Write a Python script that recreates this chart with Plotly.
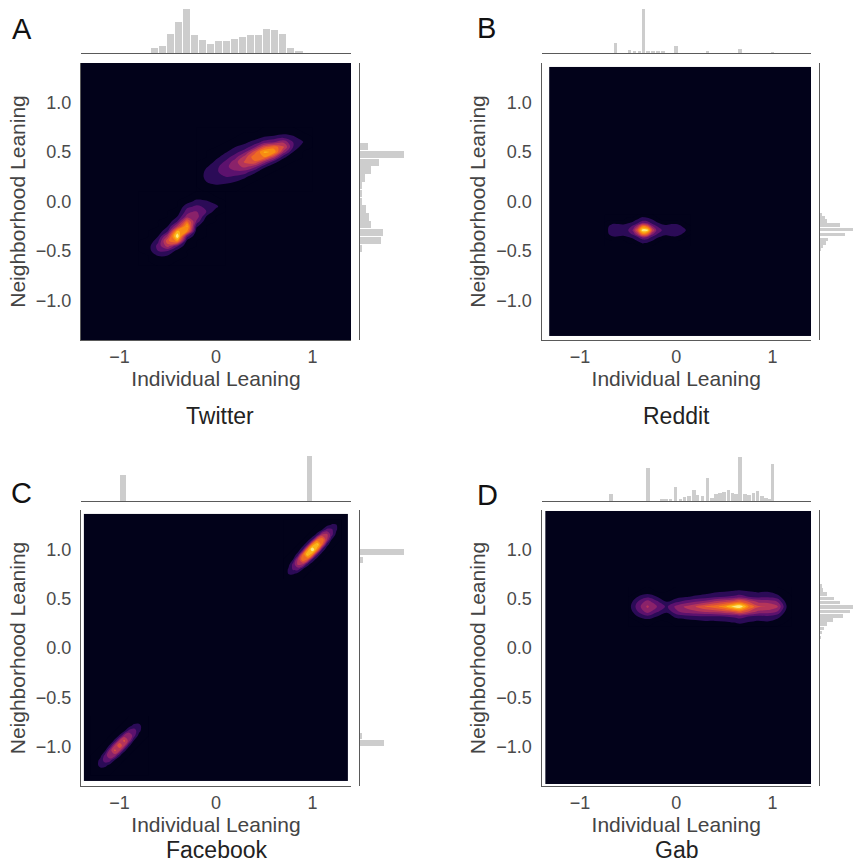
"""Individual vs neighborhood leaning on four platforms."""
import plotly.graph_objects as go

TICKS_X = [-1, 0, 1]
TICKS_Y = [-1.0, -0.5, 0.0, 0.5, 1.0]
TICK_TEXT_X = ["\u22121", "0", "1"]
TICK_TEXT_Y = ["\u22121.0", "\u22120.5", "0.0", "0.5", "1.0"]

# Twitter
A_TOP_X = [-0.636, -0.553, -0.470, -0.387, -0.304, -0.221, -0.138, -0.055, 0.028, 0.111,
           0.194, 0.277, 0.360, 0.443, 0.526, 0.609, 0.692, 0.775, 0.858]
A_TOP_Y = [15, 20, 58, 93, 132, 55, 38, 28, 36, 36, 42, 48, 55, 55, 73, 68, 57, 15, 5]
A_RIGHT_Y = [0.555, 0.476, 0.397, 0.318, 0.239, 0.160, 0.081, 0.002, -0.077, -0.156,
             -0.235, -0.314, -0.393, -0.472]
A_RIGHT_X = [25, 132, 58, 34, 15, 6, 6, 5, 17, 27, 33, 70, 62, 6]
A_HIGH_X = [-0.2, -0.1, 0.0, 0.1, 0.2, 0.3, 0.4, 0.5, 0.6, 0.7, 0.8, 0.9, 1.0]
A_HIGH_Y = [0.10, 0.15, 0.20, 0.25, 0.30, 0.35, 0.40, 0.45, 0.50, 0.55, 0.60, 0.65, 0.70, 0.75]
A_HIGH_Z = [
    [0, 0, 0, 0, 0, 0, 0, 0, 0, 0, 0, 0, 0],
    [0, .02, .08, .06, .03, 0, 0, 0, 0, 0, 0, 0, 0],
    [0, .1, .13, .13, .1, .05, 0, 0, 0, 0, 0, 0, 0],
    [0, .14, .17, .2, .18, .12, .04, 0, 0, 0, 0, 0, 0],
    [0, .13, .18, .26, .28, .26, .13, .03, 0, 0, 0, 0, 0],
    [0, .09, .17, .27, .36, .42, .32, .12, .03, 0, 0, 0, 0],
    [0, .02, .13, .22, .36, .52, .58, .36, .14, .03, 0, 0, 0],
    [0, 0, .07, .15, .26, .45, .68, .7, .45, .13, .02, 0, 0],
    [0, 0, .01, .09, .16, .28, .55, .82, .78, .36, .1, 0, 0],
    [0, 0, 0, .02, .1, .14, .28, .55, .66, .52, .2, .04, 0],
    [0, 0, 0, 0, .02, .08, .14, .24, .3, .38, .2, .11, 0],
    [0, 0, 0, 0, 0, .01, .05, .11, .13, .17, .13, .03, 0],
    [0, 0, 0, 0, 0, 0, 0, .02, .03, .05, .03, 0, 0],
    [0, 0, 0, 0, 0, 0, 0, 0, 0, 0, 0, 0, 0],
]
A_LOW_X = [-0.8, -0.7, -0.6, -0.5, -0.4, -0.3, -0.2, -0.1, 0.0, 0.1]
A_LOW_Y = [-0.65, -0.60, -0.55, -0.50, -0.45, -0.40, -0.35, -0.30, -0.25, -0.20, -0.15, -0.10,
           -0.05, 0.0, 0.05, 0.10]
A_LOW_Z = [
    [0, 0, 0, 0, 0, 0, 0, 0, 0, 0],
    [0, 0, .02, .01, 0, 0, 0, 0, 0, 0],
    [0, 0, .1, .09, .01, 0, 0, 0, 0, 0],
    [0, .06, .2, .2, .06, 0, 0, 0, 0, 0],
    [0, .06, .24, .45, .22, .02, 0, 0, 0, 0],
    [0, .01, .18, .58, .72, .06, 0, 0, 0, 0],
    [0, 0, .1, .42, 1.0, .24, .01, 0, 0, 0],
    [0, 0, .03, .2, .82, .72, .03, 0, 0, 0],
    [0, 0, 0, .1, .42, .82, .12, 0, 0, 0],
    [0, 0, 0, .03, .2, .62, .28, .02, 0, 0],
    [0, 0, 0, 0, .1, .34, .36, .1, 0, 0],
    [0, 0, 0, 0, .04, .25, .3, .2, .05, 0],
    [0, 0, 0, 0, 0, .17, .22, .18, .13, 0],
    [0, 0, 0, 0, 0, .05, .14, .12, .05, 0],
    [0, 0, 0, 0, 0, 0, .04, .02, 0, 0],
    [0, 0, 0, 0, 0, 0, 0, 0, 0, 0],
]

# Reddit
B_TOP_X = [-0.638, -0.490, -0.438, -0.386, -0.345, -0.300, -0.248, -0.197, -0.145, -0.007,
           0.320, 0.659, 0.993]
B_TOP_Y = [30, 8, 5, 4, 132, 5, 5, 6, 5, 20, 6, 12, 3]
B_RIGHT_Y = [-0.129, -0.163, -0.197, -0.238, -0.282, -0.333, -0.384, -0.418, -0.452, -0.486]
B_RIGHT_X = [5, 15, 22, 60, 100, 75, 25, 18, 10, 3]
B_X = [-0.75, -0.7, -0.65, -0.6, -0.55, -0.5, -0.45, -0.4, -0.35, -0.3, -0.25, -0.2, -0.15,
       -0.1, -0.05, 0.0, 0.05, 0.1, 0.15]
B_Y = [-0.45, -0.42, -0.39, -0.36, -0.33, -0.29, -0.25, -0.22, -0.19, -0.16, -0.13]
B_Z = [
    [0, 0, 0, 0, 0, 0, 0, 0, .03, .02, 0, 0, 0, 0, 0, 0, 0, 0, 0],
    [0, 0, 0, 0, 0, 0, 0, .05, .11, .09, .04, 0, 0, 0, 0, 0, 0, 0, 0],
    [0, 0, 0, 0, 0, .03, .07, .13, .17, .16, .12, .06, 0, 0, 0, 0, 0, 0, 0],
    [0, .02, .09, .08, .07, .1, .13, .2, .33, .3, .18, .12, .08, .05, .08, .08, .03, 0, 0],
    [0, .1, .15, .15, .14, .15, .22, .4, .68, .6, .32, .2, .14, .13, .15, .15, .11, .03, 0],
    [0, .12, .17, .18, .17, .2, .32, .6, .98, .95, .52, .27, .2, .17, .17, .18, .14, .1, 0],
    [0, .1, .15, .15, .14, .15, .22, .4, .68, .6, .32, .2, .14, .13, .15, .15, .11, .03, 0],
    [0, .02, .09, .08, .07, .1, .13, .2, .33, .3, .18, .12, .08, .05, .08, .08, .03, 0, 0],
    [0, 0, 0, 0, 0, .03, .07, .13, .17, .16, .12, .06, 0, 0, 0, 0, 0, 0, 0],
    [0, 0, 0, 0, 0, 0, 0, .05, .11, .09, .04, 0, 0, 0, 0, 0, 0, 0, 0],
    [0, 0, 0, 0, 0, 0, 0, 0, .03, .02, 0, 0, 0, 0, 0, 0, 0, 0, 0],
]

# Facebook
C_TOP_X = [-0.965, 0.972]
C_TOP_Y = [78, 134]
C_RIGHT_Y = [0.970, 0.895, -0.889, -0.963]
C_RIGHT_X = [133, 8, 5, 73]
C_HIGH_X = [0.7, 0.75, 0.8, 0.85, 0.9, 0.95, 1.0, 1.05, 1.1, 1.15, 1.2, 1.25, 1.3]
C_HIGH_Y = [0.7, 0.75, 0.8, 0.85, 0.9, 0.95, 1.0, 1.05, 1.1, 1.15, 1.2, 1.25, 1.3]
C_HIGH_Z = [
    [.03, .04, .02, .01, 0, 0, 0, 0, 0, 0, 0, 0, 0],
    [.04, .1, .11, .05, .01, 0, 0, 0, 0, 0, 0, 0, 0],
    [.02, .11, .22, .24, .1, .02, 0, 0, 0, 0, 0, 0, 0],
    [.01, .05, .24, .43, .42, .15, .03, 0, 0, 0, 0, 0, 0],
    [0, .01, .1, .42, .69, .61, .2, .04, 0, 0, 0, 0, 0],
    [0, 0, .02, .15, .61, .91, .73, .22, .04, 0, 0, 0, 0],
    [0, 0, 0, .03, .2, .73, 1, .73, .2, .03, 0, 0, 0],
    [0, 0, 0, 0, .04, .22, .73, .91, .61, .15, .02, 0, 0],
    [0, 0, 0, 0, 0, .04, .2, .61, .69, .42, .1, .01, 0],
    [0, 0, 0, 0, 0, 0, .03, .15, .42, .43, .24, .05, .01],
    [0, 0, 0, 0, 0, 0, 0, .02, .1, .24, .22, .11, .02],
    [0, 0, 0, 0, 0, 0, 0, 0, .01, .05, .11, .1, .04],
    [0, 0, 0, 0, 0, 0, 0, 0, 0, .01, .02, .04, .03],
]
C_LOW_X = [-1.3, -1.25, -1.2, -1.15, -1.1, -1.05, -1.0, -0.95, -0.9, -0.85, -0.8, -0.75, -0.7]
C_LOW_Y = [-1.29, -1.24, -1.19, -1.14, -1.09, -1.04, -0.99, -0.94, -0.89, -0.84, -0.79, -0.74, -0.69]
C_LOW_Z = [
    [.02, .02, .01, .01, 0, 0, 0, 0, 0, 0, 0, 0, 0],
    [.02, .06, .06, .03, .01, 0, 0, 0, 0, 0, 0, 0, 0],
    [.01, .06, .13, .14, .06, .01, 0, 0, 0, 0, 0, 0, 0],
    [.01, .03, .14, .25, .24, .09, .02, 0, 0, 0, 0, 0, 0],
    [0, .01, .06, .24, .4, .35, .12, .02, 0, 0, 0, 0, 0],
    [0, 0, .01, .09, .35, .53, .42, .13, .02, 0, 0, 0, 0],
    [0, 0, 0, .02, .12, .42, .58, .42, .12, .02, 0, 0, 0],
    [0, 0, 0, 0, .02, .13, .42, .53, .35, .09, .01, 0, 0],
    [0, 0, 0, 0, 0, .02, .12, .35, .4, .24, .06, .01, 0],
    [0, 0, 0, 0, 0, 0, .02, .09, .24, .25, .14, .03, .01],
    [0, 0, 0, 0, 0, 0, 0, .01, .06, .14, .13, .06, .01],
    [0, 0, 0, 0, 0, 0, 0, 0, .01, .03, .06, .06, .02],
    [0, 0, 0, 0, 0, 0, 0, 0, 0, .01, .01, .02, .02],
]

# Gab
D_TOP_X = [-0.683, -0.300, -0.155, -0.110, -0.066, -0.014, 0.038, 0.079, 0.124, 0.176, 0.217,
           0.269, 0.321, 0.366, 0.407, 0.452, 0.493, 0.538, 0.579, 0.614, 0.659, 0.707, 0.752,
           0.797, 0.838, 0.883, 0.924, 0.959, 0.993]
D_TOP_Y = [20, 98, 6, 6, 6, 43, 6, 12, 14, 32, 18, 16, 68, 10, 20, 24, 27, 33, 25, 20, 133,
           20, 18, 25, 30, 14, 8, 5, 112]
D_RIGHT_Y = [0.628, 0.587, 0.550, 0.503, 0.460, 0.416, 0.369, 0.326, 0.285, 0.242, 0.200,
             0.158, 0.107]
D_RIGHT_X = [5, 10, 22, 42, 60, 100, 90, 70, 38, 22, 12, 6, 3]
D_X = [-0.5, -0.4, -0.3, -0.2, -0.1, 0.0, 0.1, 0.2, 0.3, 0.4, 0.5, 0.6, 0.66, 0.75, 0.85, 0.95,
       1.05, 1.15, 1.2]
D_Y = [0.22, 0.27, 0.32, 0.37, 0.42, 0.47, 0.52, 0.57, 0.62]
D_Z = [
    [0, 0, 0, 0, 0, 0, 0, .01, .01, .01, .02, .04, .06, .03, .02, .02, 0, 0, 0],
    [0, 0, .04, 0, 0, .04, .05, .07, .09, .09, .1, .12, .14, .11, .09, .1, .05, 0, 0],
    [0, .1, .17, .1, .04, .13, .16, .18, .19, .19, .2, .22, .24, .2, .17, .18, .14, .02, 0],
    [.02, .2, .35, .22, .12, .28, .36, .38, .42, .44, .48, .55, .62, .5, .38, .36, .3, .05, 0],
    [.04, .25, .42, .3, .18, .33, .42, .5, .6, .66, .76, .95, 1, .72, .52, .5, .42, .09, 0],
    [.02, .2, .35, .22, .1, .18, .24, .3, .34, .42, .48, .55, .62, .5, .38, .36, .3, .05, 0],
    [0, .1, .17, .1, .02, .06, .09, .12, .14, .17, .2, .22, .24, .2, .17, .18, .14, .02, 0],
    [0, 0, .04, 0, 0, .01, .02, .04, .06, .09, .1, .12, .14, .11, .09, .1, .05, 0, 0],
    [0, 0, 0, 0, 0, 0, 0, .01, .02, .04, .06, .03, .02, .02, .01, .01, 0, 0, 0],
]

W, H = 853, 863
FONT = "Liberation Sans"
BG = "#02021a"
BAR = "#cdcdcd"
SPINE = "#5a5a5a"
# plotly stretches the scale over the contour levels, one stop for each band above the background
DENSITY_SCALE = [
    [0.0, BG], [0.12, BG], [0.182, "#2b0b57"], [0.273, "#5c126e"], [0.364, "#8a226a"],
    [0.455, "#b5355a"], [0.545, "#d94d3e"], [0.636, "#ee6a24"], [0.727, "#f88d12"],
    [0.818, "#fbb61a"], [0.909, "#fbe97a"], [1.0, "#fcffa4"],
]

# panel: letter, title, pixel boxes (left, right, top, bottom), black box in data units
PANELS = [
    dict(letter="A", title="Twitter", main=(81, 351, 63, 340), top=(8, 53), right=(360, 405),
         rmax=135, extent=(-1.4, 1.4, -1.4, 1.4), top_x=A_TOP_X, top_y=A_TOP_Y, right_x=A_RIGHT_X,
         right_y=A_RIGHT_Y, barw=0.078, barh=0.074, title_x=220, title_y=416, letter_x=10, letter_y=29,
         blobs=[(A_HIGH_X, A_HIGH_Y, A_HIGH_Z), (A_LOW_X, A_LOW_Y, A_LOW_Z)]),
    dict(letter="B", title="Reddit", main=(541.5, 811, 63, 340), top=(8, 53), right=(820, 853),
         rmax=100, extent=(-1.32, 1.4, -1.36, 1.36), top_x=B_TOP_X, top_y=B_TOP_Y, right_x=B_RIGHT_X,
         right_y=B_RIGHT_Y, barw=0.038, barh=0.034, title_x=676, title_y=416, letter_x=475, letter_y=28,
         blobs=[(B_X, B_Y, B_Z)]),
    dict(letter="C", title="Facebook", main=(81, 351, 510, 786), top=(456, 501), right=(360, 405),
         rmax=135, extent=(-1.37, 1.37, -1.35, 1.36), top_x=C_TOP_X, top_y=C_TOP_Y, right_x=C_RIGHT_X,
         right_y=C_RIGHT_Y, barw=0.055, barh=0.062, title_x=217, title_y=850, letter_x=9, letter_y=493,
         blobs=[(C_HIGH_X, C_HIGH_Y, C_HIGH_Z), (C_LOW_X, C_LOW_Y, C_LOW_Z)]),
    dict(letter="D", title="Gab", main=(541.5, 811, 510, 786), top=(456, 501), right=(820, 853),
         rmax=100, extent=(-1.36, 1.4, -1.38, 1.39), top_x=D_TOP_X, top_y=D_TOP_Y, right_x=D_RIGHT_X,
         right_y=D_RIGHT_Y, barw=0.038, barh=0.036, title_x=676, title_y=850, letter_x=475, letter_y=495,
         blobs=[(D_X, D_Y, D_Z)]),
]


def x_dom(left, right):
    return [left / W, right / W]


def y_dom(top, bottom):
    return [1 - bottom / H, 1 - top / H]


def hidden(**kw):
    return dict(visible=False, fixedrange=True, **kw)


fig = go.Figure()
layout = {}
annotations = []
n = 1
for p in PANELS:
    left, right, top, bottom = p["main"]
    main_id, top_id, right_id = n, n + 1, n + 2
    n += 3
    xm, ym = f"x{main_id}", f"y{main_id}"
    x0, x1, y0, y1 = p["extent"]

    # black box first, then the density blobs over it
    fig.add_trace(go.Heatmap(x=[x0, x1], y=[y0, y1], z=[[0]], zmin=0, zmax=1, xaxis=xm, yaxis=ym,
                             colorscale=[[0, BG], [1, BG]], showscale=False, hoverinfo="skip"))
    for bx, by, bz in p["blobs"]:
        fig.add_trace(go.Contour(
            x=bx, y=by, z=bz, xaxis=xm, yaxis=ym, colorscale=DENSITY_SCALE, autocontour=False,
            contours=dict(coloring="fill", start=0.0, end=1.0, size=0.1),
            line=dict(width=0, smoothing=1.0), showscale=False, hoverinfo="skip",
        ))
    fig.add_trace(go.Bar(x=p["top_x"], y=p["top_y"], width=p["barw"], marker_color=BAR,
                         marker_line_width=0, xaxis=f"x{top_id}", yaxis=f"y{top_id}",
                         hoverinfo="skip"))
    fig.add_trace(go.Bar(x=p["right_x"], y=p["right_y"], width=p["barh"], orientation="h",
                         marker_color=BAR, marker_line_width=0, xaxis=f"x{right_id}",
                         yaxis=f"y{right_id}", hoverinfo="skip"))

    layout[f"xaxis{main_id}"] = dict(
        domain=x_dom(left, right), range=[-1.4, 1.4], anchor=ym, tickvals=TICKS_X,
        ticktext=TICK_TEXT_X, showgrid=False, zeroline=False, showline=True, linecolor=SPINE,
        linewidth=1.2, ticks="", ticklabelstandoff=0, tickfont=dict(size=18, color="#4a4a4a"),
        title=dict(text="Individual Leaning", standoff=2, font=dict(size=21, color="#444444")),
        automargin=True,
    )
    layout[f"yaxis{main_id}"] = dict(
        domain=y_dom(top, bottom), range=[-1.4, 1.4], anchor=xm, tickvals=TICKS_Y,
        ticktext=TICK_TEXT_Y, showgrid=False, zeroline=False, showline=True, linecolor=SPINE,
        linewidth=1.2, ticks="", ticklabelstandoff=5, tickfont=dict(size=18, color="#4a4a4a"),
        title=dict(text="Neighborhood Leaning", standoff=4, font=dict(size=21, color="#444444")),
        automargin=True,
    )
    # top marginal keeps only its baseline
    layout[f"xaxis{top_id}"] = dict(
        domain=x_dom(left, right), range=[-1.4, 1.4], anchor=f"y{top_id}", showticklabels=False,
        showgrid=False, zeroline=False, showline=True, linecolor=SPINE, linewidth=1.2, ticks="",
    )
    layout[f"yaxis{top_id}"] = hidden(domain=y_dom(*p["top"]), range=[0, 135], anchor=f"x{top_id}")
    # right marginal keeps only its left line
    layout[f"xaxis{right_id}"] = hidden(domain=x_dom(*p["right"]), range=[0, p["rmax"]],
                                        anchor=f"y{right_id}")
    layout[f"yaxis{right_id}"] = dict(
        domain=y_dom(top, bottom), range=[-1.4, 1.4], anchor=f"x{right_id}", showticklabels=False,
        showgrid=False, zeroline=False, showline=True, linecolor=SPINE, linewidth=1.2, ticks="",
    )

    annotations.append(dict(
        text=p["title"], x=p["title_x"] / W, y=1 - p["title_y"] / H, xref="paper", yref="paper",
        showarrow=False, xanchor="center", yanchor="middle", font=dict(size=23, color="#222222"),
    ))
    annotations.append(dict(
        text=p["letter"], x=p["letter_x"] / W, y=1 - p["letter_y"] / H, xref="paper", yref="paper",
        showarrow=False, xanchor="left", yanchor="middle", font=dict(size=29, color="#111111"),
    ))

fig.update_layout(
    width=W, height=H, margin=dict(l=0, r=0, t=0, b=0), paper_bgcolor="white", plot_bgcolor="white",
    showlegend=False, font=dict(family=FONT), annotations=annotations, bargap=0, **layout,
)
fig.write_html("out.html", config={"displayModeBar": False},
               post_script="document.body.style.margin='0';document.body.style.overflow='hidden';")
